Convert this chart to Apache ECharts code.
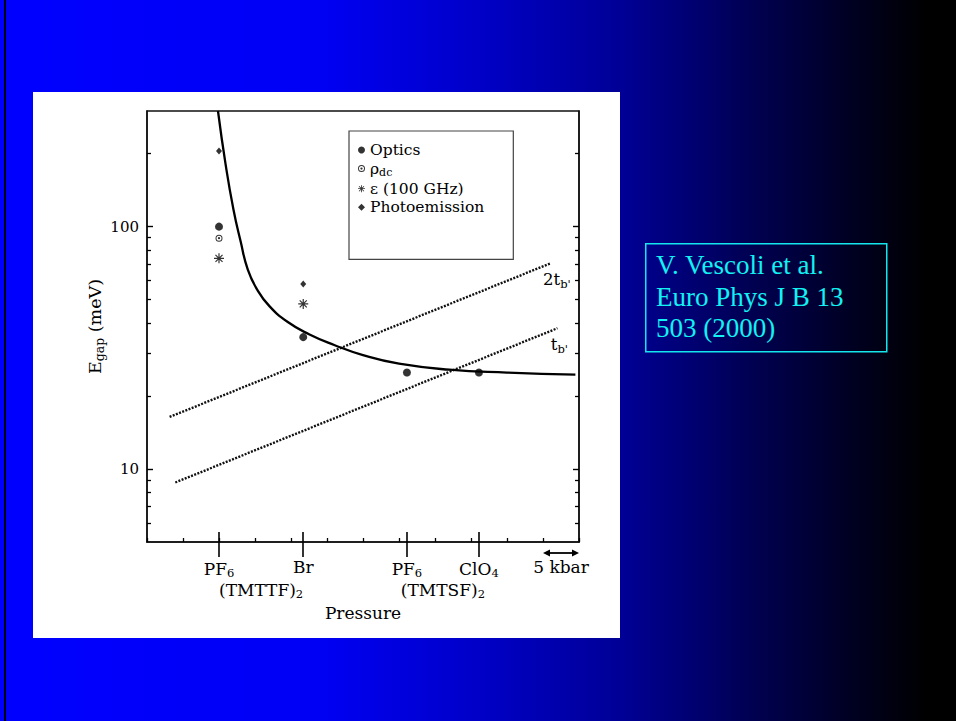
<!DOCTYPE html>
<html>
<head>
<meta charset="utf-8">
<title>Egap vs pressure</title>
<script src="https://cdn.jsdelivr.net/npm/echarts@6/dist/echarts.min.js"></script>
<style>
  html, body { margin: 0; padding: 0; width: 956px; height: 721px; overflow: hidden; }
  body {
    position: relative;
    background: linear-gradient(to right, #0000ff 0%, #0000f5 33%, #0000c8 50%, #000096 65%, #000055 78%, #00001e 90%, #000000 97%);
  }
  #edge { position: absolute; left: 4px; top: 0; width: 2px; height: 721px; background: #000010; }
  #sheet { position: absolute; left: 33px; top: 92px; width: 587px; height: 546px; background: #ffffff; }
  #chart { position: absolute; left: 0; top: 0; width: 956px; height: 721px; }
</style>
</head>
<body>
<div id="edge"></div>
<div id="sheet"></div>
<div id="chart"></div>
<script>
// Compounds along the pressure axis (kbar, arbitrary origin)
const compoundPressure = [10, 21.7, 36.1, 46.1];
const compoundLabels = ['PF{s|6}', 'Br', 'PF{s|6}', 'ClO{s|4}'];
const familyLabels = ['(TMTTF){s|2}', '(TMTSF){s|2}'];
const scaleBarRange = [55, 60];
const scaleBarLabel = '5 kbar';

// Measured gaps (meV)
const opticsGap = [100, 35, 25, 25];
const rhoDcGap = [89.6];
const epsilonGap = [74, 48];
const photoemissionGap = [205, 58];

// Guide curve through the gaps
const fitPressure = [9.86, 10.9, 12.0, 13.0, 14.0, 15.3, 17.0, 19.5, 22.5, 26.0, 30.0, 35.0, 42.0, 50.0, 59.5];
const fitGap = [300, 182, 118, 87, 66.5, 55, 47, 40.5, 36, 32.5, 29.5, 27.2, 25.7, 25.0, 24.5];

// Interchain transfer integrals
const twoTbPressure = [3.14, 56.1];
const twoTbGap = [16.4, 70.7];
const tbPressure = [3.93, 57.0];
const tbGap = [8.8, 38.1];

// Axis ticks
const yMajorTicks = [10, 100];
const yMinorTicks = [6, 7, 8, 9, 20, 30, 40, 50, 60, 70, 80, 90, 200];
const pressureMin = 0, pressureMax = 60, pressureStep = 5;
const gapMin = 5, gapMax = 300;

const citationLines = ['V. Vescoli et al.', 'Euro Phys J B 13', '503 (2000)'];

const serif = 'DejaVu Serif';
const ink = '#000000';
const subStyle = { fontFamily: serif, fontSize: 11.5, color: ink, padding: [9, 0, 0, 0] };

const bullseye = 'path://M0,-10 A10,10 0 1,1 0,10 A10,10 0 1,1 0,-10 Z M0,-7.2 A7.2,7.2 0 1,0 0,7.2 A7.2,7.2 0 1,0 0,-7.2 Z M0,-3.3 A3.3,3.3 0 1,1 0,3.3 A3.3,3.3 0 1,1 0,-3.3 Z';
const asterisk = 'path://M-1.2,-10 L1.2,-10 L1.2,10 L-1.2,10 Z M-10,-1.2 L10,-1.2 L10,1.2 L-10,1.2 Z ' +
  'M-6.222,-7.92 L7.92,6.222 L6.222,7.92 L-7.92,-6.222 Z M-7.92,6.222 L6.222,-7.92 L7.92,-6.222 L-6.222,7.92 Z';

const familyPressure = [
  (compoundPressure[0] + compoundPressure[1]) / 2,
  (compoundPressure[2] + compoundPressure[3]) / 2
];
const scaleBarMid = (scaleBarRange[0] + scaleBarRange[1]) / 2;

function pickLabel(values, labels, v) {
  for (let i = 0; i < values.length; i++) {
    if (Math.abs(values[i] - v) < 1e-6) return labels[i];
  }
  return '';
}

const pair = (xs, ys) => ys.map((y, i) => [xs[i], y]);

const chart = echarts.init(document.getElementById('chart'), null, { renderer: 'svg' });

const baseX = {
  type: 'value', position: 'bottom', min: pressureMin, max: pressureMax,
  splitLine: { show: false },
  axisLine: { show: false, onZero: false },
  axisLabel: { show: false },
  axisTick: { show: false }
};
const baseY = {
  type: 'log', logBase: 10, min: gapMin, max: gapMax,
  splitLine: { show: false },
  axisLine: { show: false, onZero: false },
  axisLabel: { show: false },
  axisTick: { show: false }
};

const labelText = { fontFamily: serif, fontSize: 17, color: ink, rich: { s: subStyle } };

const option = {
  backgroundColor: 'transparent',
  animation: false,
  grid: {
    left: 147, right: 377, top: 111, bottom: 179,
    show: true, borderColor: '#111', borderWidth: 1.4,
    containLabel: false, outerBoundsMode: 'none'
  },
  legend: {
    orient: 'vertical', left: 349, top: 131,
    data: ['Optics', 'ρdc', 'ε (100 GHz)', 'Photoemission'],
    formatter: name => (name === 'ρdc' ? 'ρ{s|dc}' : name),
    selectedMode: false,
    itemWidth: 7, itemHeight: 7, itemGap: 2.6,
    padding: [11, 29, 44, 9],
    borderColor: '#444', borderWidth: 1.2,
    backgroundColor: 'transparent',
    textStyle: { fontFamily: serif, fontSize: 15.5, color: ink, rich: { s: Object.assign({}, subStyle, { fontSize: 11, padding: [8, 0, 0, 0] }) } }
  },
  xAxis: [
    Object.assign({}, baseX, {
      axisLine: { show: true, onZero: false, lineStyle: { color: '#111', width: 1.6 } },
      axisTick: { show: true, inside: false, length: 15, customValues: compoundPressure, lineStyle: { color: ink, width: 1.6 } },
      axisLabel: Object.assign({
        show: true, margin: 16,
        customValues: compoundPressure.concat([scaleBarMid]),
        formatter: v => (Math.abs(v - scaleBarMid) < 1e-6 ? scaleBarLabel : pickLabel(compoundPressure, compoundLabels, v))
      }, labelText),
      name: 'Pressure', nameLocation: 'middle', nameGap: 62,
      nameTextStyle: { fontFamily: serif, fontSize: 17, color: ink }
    }),
    Object.assign({}, baseX, {
      axisTick: { show: true, inside: true, length: 10, customValues: compoundPressure, lineStyle: { color: ink, width: 1.6 } },
      axisLabel: Object.assign({
        show: true, margin: 37,
        customValues: familyPressure,
        formatter: v => pickLabel(familyPressure, familyLabels, v)
      }, labelText)
    }),
    Object.assign({}, baseX, {
      interval: pressureStep,
      axisTick: { show: true, inside: true, length: 4, lineStyle: { color: ink, width: 1.3 } }
    })
  ],
  yAxis: [
    Object.assign({}, baseY, {
      position: 'left',
      axisLine: { show: true, onZero: false, lineStyle: { color: '#111', width: 1.6 } },
      axisTick: { show: true, inside: true, length: 6, customValues: yMajorTicks, lineStyle: { color: ink, width: 1.4 } },
      axisLabel: { show: true, margin: 8, customValues: yMajorTicks, fontFamily: serif, fontSize: 15, color: ink },
      name: 'E{s|gap} (meV)', nameLocation: 'middle', nameGap: 30,
      nameTextStyle: { fontFamily: serif, fontSize: 17.5, color: ink, rich: { s: Object.assign({}, subStyle, { fontSize: 12.5 }) } }
    }),
    Object.assign({}, baseY, {
      position: 'left',
      axisTick: { show: true, inside: true, length: 4, customValues: yMinorTicks, lineStyle: { color: ink, width: 1.3 } }
    }),
    Object.assign({}, baseY, {
      position: 'right',
      axisLine: { show: true, onZero: false, lineStyle: { color: '#111', width: 1.6 } },
      axisTick: { show: true, inside: true, length: 6, customValues: yMajorTicks, lineStyle: { color: ink, width: 1.4 } }
    }),
    Object.assign({}, baseY, {
      position: 'right',
      axisTick: { show: true, inside: true, length: 4, customValues: yMinorTicks, lineStyle: { color: ink, width: 1.3 } }
    })
  ],
  series: [
    {
      name: 'fit', type: 'line', xAxisIndex: 0, yAxisIndex: 0,
      data: pair(fitPressure, fitGap),
      showSymbol: false, symbol: 'none', smooth: 0.5,
      lineStyle: { color: ink, width: 2.3 }, clip: true, silent: true, z: 3
    },
    {
      name: '2tb', type: 'line', xAxisIndex: 0, yAxisIndex: 0,
      data: pair(twoTbPressure, twoTbGap).map((d, i) => (i === 1 ? {
        value: d,
        label: { show: true, position: 'bottom', distance: 6, offset: [6, 0], formatter: '2t{s|b\'}', fontFamily: serif, fontSize: 16.5, color: ink, rich: { s: subStyle } }
      } : d)),
      symbol: 'circle', symbolSize: 0.01, showSymbol: true,
      lineStyle: { color: '#111', width: 2.4, type: [2, 1.4] }, itemStyle: { color: '#111' }, silent: true, z: 2
    },
    {
      name: 'tb', type: 'line', xAxisIndex: 0, yAxisIndex: 0,
      data: pair(tbPressure, tbGap).map((d, i) => (i === 1 ? {
        value: d,
        label: { show: true, position: 'bottom', distance: 6, offset: [2, 0], formatter: 't{s|b\'}', fontFamily: serif, fontSize: 16.5, color: ink, rich: { s: subStyle } }
      } : d)),
      symbol: 'circle', symbolSize: 0.01, showSymbol: true,
      lineStyle: { color: '#111', width: 2.4, type: [2, 1.4] }, itemStyle: { color: '#111' }, silent: true, z: 2
    },
    {
      name: 'Optics', type: 'scatter', xAxisIndex: 0, yAxisIndex: 0,
      data: pair(compoundPressure, opticsGap),
      symbol: 'circle', symbolSize: 8, itemStyle: { color: ink }, z: 4
    },
    {
      name: 'ρdc', type: 'scatter', xAxisIndex: 0, yAxisIndex: 0,
      data: pair(compoundPressure, rhoDcGap),
      symbol: bullseye, symbolSize: 7, itemStyle: { color: ink }, z: 4
    },
    {
      name: 'ε (100 GHz)', type: 'scatter', xAxisIndex: 0, yAxisIndex: 0,
      data: pair(compoundPressure, epsilonGap),
      symbol: asterisk, symbolSize: 10, itemStyle: { color: ink }, z: 4
    },
    {
      name: 'Photoemission', type: 'scatter', xAxisIndex: 0, yAxisIndex: 0,
      data: pair(compoundPressure, photoemissionGap),
      symbol: 'diamond', symbolSize: [6, 7], itemStyle: { color: ink }, z: 4
    }
  ]
};

chart.setOption(option);

// Scale bar arrow under the axis and the citation panel
const xa = chart.convertToPixel({ xAxisIndex: 0 }, scaleBarRange[0]);
const xb = chart.convertToPixel({ xAxisIndex: 0 }, scaleBarRange[1]);
const yBar = chart.convertToPixel({ yAxisIndex: 0 }, gapMin) + 11;
const head = 7, half = 3.5;

chart.setOption({
  graphic: [
    { type: 'line', id: 'barLine', shape: { x1: xa + 3, y1: yBar, x2: xb - 3, y2: yBar }, style: { stroke: ink, lineWidth: 1.8 }, z: 10 },
    { type: 'polygon', id: 'barHeadL', shape: { points: [[xa, yBar], [xa + head, yBar - half], [xa + head, yBar + half]] }, style: { fill: ink }, z: 10 },
    { type: 'polygon', id: 'barHeadR', shape: { points: [[xb, yBar], [xb - head, yBar - half], [xb - head, yBar + half]] }, style: { fill: ink }, z: 10 },
    { type: 'rect', id: 'citeBox', left: 645, top: 243, shape: { width: 241, height: 108 }, style: { fill: 'transparent', stroke: '#14e6ee', lineWidth: 1.5 }, z: 10 },
    { type: 'text', id: 'citeText', left: 656, top: 249, style: { text: citationLines.join('\n'), fill: '#12f2f2', font: '27px "Liberation Serif"', lineHeight: 31.7 }, z: 10 }
  ]
});
</script>
</body>
</html>
